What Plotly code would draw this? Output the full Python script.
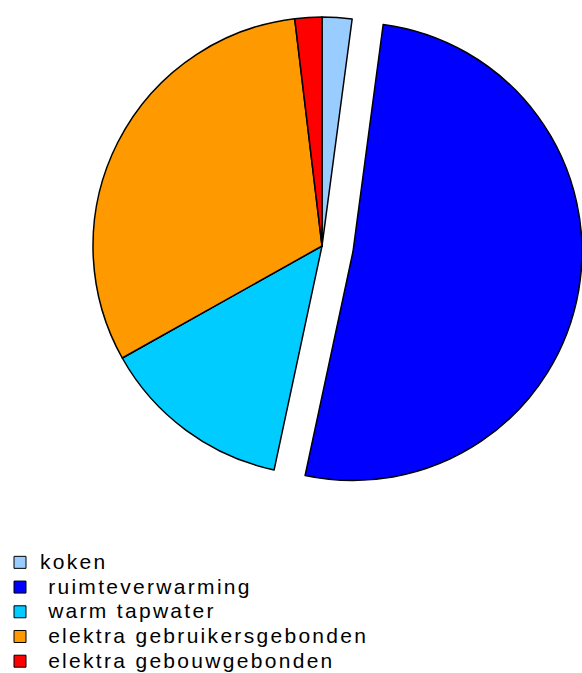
import plotly.graph_objects as go

# ---- data ----
labels = ["koken", " ruimteverwarming", " warm tapwater",
          " elektra gebruikersgebonden", " elektra gebouwgebonden"]
values = [2.1, 51.2, 13.5, 31.2, 1.9]
colors = ["#99CCFF", "#0000FF", "#00CCFF", "#FF9900", "#FF0000"]
pulled_label = " ruimteverwarming"

# ---- layout constants ----
W, H = 582, 673
CX, CY, R = 322, 246, 229      # pie centre / radius in px
DX, DY = 31, 5.5               # offset of the exploded slice in px
LW = 1.5
TRANSPARENT = "rgba(0,0,0,0)"
LEGEND_STYLE = "font-size:21px;letter-spacing:2.3px"
LEGEND_TOP = 545


def dom(cx, cy, r):
    return dict(x=[max(0, (cx - r) / W), min(1, (cx + r) / W)],
                y=[max(0, 1 - (cy + r) / H), min(1, 1 - (cy - r) / H)])


shown = [f'<span style="{LEGEND_STYLE}">{l}</span>' for l in labels]
is_pulled = [l == pulled_label for l in labels]

common = dict(labels=shown, values=values, sort=False, direction="clockwise",
              rotation=0, textinfo="none", hoverinfo="label+percent")

fig = go.Figure()

# legend source (tiny, hidden under the main pie centre)
fig.add_trace(go.Pie(**common, domain=dom(CX, CY, 0.5), showlegend=True,
                     marker=dict(colors=colors, line=dict(color="black", width=1))))

# main pie without the exploded slice
fig.add_trace(go.Pie(**common, domain=dom(CX, CY, R), showlegend=False,
                     marker=dict(colors=[TRANSPARENT if p else c for c, p in zip(colors, is_pulled)],
                                 line=dict(color="black",
                                           width=[0 if p else LW for p in is_pulled]))))

# exploded slice
fig.add_trace(go.Pie(**common, domain=dom(CX + DX, CY + DY, R), showlegend=False,
                     marker=dict(colors=[c if p else TRANSPARENT for c, p in zip(colors, is_pulled)],
                                 line=dict(color="black",
                                           width=[LW if p else 0 for p in is_pulled]))))

fig.update_layout(
    width=W, height=H,
    margin=dict(l=0, r=0, t=0, b=0, autoexpand=False),
    paper_bgcolor="white", plot_bgcolor="white",
    legend=dict(xref="container", yref="container",
                x=0, xanchor="left", y=1 - LEGEND_TOP / H, yanchor="top",
                font=dict(family="Liberation Sans, Arial", size=16.7, color="black"),
                bgcolor="rgba(0,0,0,0)", borderwidth=0, traceorder="normal"),
)

fig.write_html("out.html")
